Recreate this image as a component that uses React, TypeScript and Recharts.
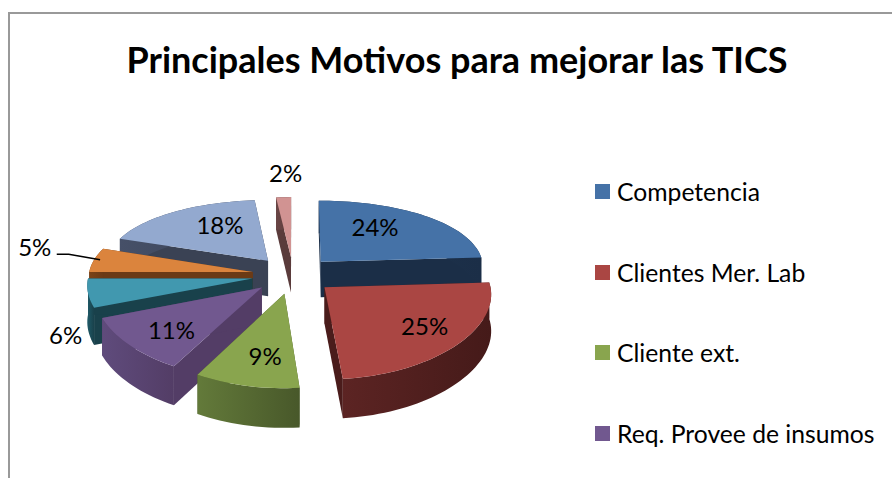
import React from "react";
import { PieChart, Pie, Legend } from "recharts";

const sliceIds = ["s1", "s2", "s3", "s4", "s5", "s6", "s7", "s8"];
const values = [24, 24.6, 9.4, 11, 6, 5.4, 18, 1.6];
const legendNames = ["Competencia", "Clientes Mer. Lab", "Cliente ext.", "Req. Provee de insumos"];

const topColors = ["#4572a7", "#aa4643", "#89a54e", "#71588f", "#4198af", "#db843d", "#93a9cf", "#d19392"];
const faceColors = ["#1b2e47", "#4a1c1b", "#4a5a2a", "#533d66", "#19414b", "#6b3a15", "#3a4254", "#5a3b3b"];
const wallFrom = ["#1f3550", "#5c2423", "#637a3a", "#5f4b7c", "#1f5a68", "#7a4318", "#465068", "#6a4545"];
const wallTo = ["#1b2e47", "#451a19", "#48582a", "#533d66", "#19414b", "#6b3a15", "#3a4254", "#5a3b3b"];

// back to front, so nearer wedges cover the walls of the ones behind
const drawOrder = [7, 6, 0, 5, 4, 1, 3, 2];

// label placement along each wedge's mid angle, as a share of the radius
const labelRadius = [0.55, 0.72, 0.76, 0.78, 1.2, 1.4, 0.6, 1.3];
const labelNudgeX = [-4, 5, 9, 12, 11, 3, 9, 4];
const labelNudgeY = [-9, -1, -5, -2, 39, -9, -6, -10];

const table = sliceIds.map((id, i) => ({ id, value: values[i] }));

const FONT = "Lato, sans-serif";
const EXPLODE = 0.25;
const TILT = 0.454;
const DEPTH = 36;
const RAD = Math.PI / 180;

// recharts angles run counter-clockwise from 3 o'clock; turn them into a disc direction
const dir = (angle: number) => ({ x: Math.cos(angle * RAD), y: -Math.sin(angle * RAD) });

const project = (cx: number, cy: number, R: number, x: number, y: number) => ({
  x: cx + (x * R) / (1 - 0.075 * y),
  y: cy + (y * 163 * TILT) / (1 - 0.15 * y),
  drop: DEPTH * (1 + 0.08 * y),
});

const Slice3D = (props: any) => {
  const { cx, cy, outerRadius: R, startAngle, endAngle } = props;
  const i = sliceIds.indexOf(props.id ?? props.payload?.id);
  const mid = dir((startAngle + endAngle) / 2);
  const ox = mid.x * EXPLODE;
  const oy = mid.y * EXPLODE;

  const apex = project(cx, cy, R, ox, oy);
  const steps = Math.max(2, Math.ceil(Math.abs(endAngle - startAngle) / 2));
  const rim = [];
  for (let s = 0; s <= steps; s++) {
    const d = dir(startAngle + ((endAngle - startAngle) * s) / steps);
    rim.push(project(cx, cy, R, ox + d.x, oy + d.y));
  }
  const first = rim[0];
  const last = rim[rim.length - 1];
  const pts = (list: { x: number; y: number }[]) => list.map((p) => `${p.x},${p.y}`).join(" L");
  const down = (p: any) => ({ x: p.x, y: p.y + p.drop });

  const topPath = `M${apex.x},${apex.y} L${pts(rim)} Z`;
  const wallPath = `M${pts(rim)} L${pts(rim.map(down).reverse())} Z`;
  const faceA = `M${apex.x},${apex.y} L${first.x},${first.y} L${down(first).x},${down(first).y} L${down(apex).x},${down(apex).y} Z`;
  const faceB = `M${apex.x},${apex.y} L${last.x},${last.y} L${down(last).x},${down(last).y} L${down(apex).x},${down(apex).y} Z`;
  const gradId = `wall-${i}`;

  return (
    <g>
      <defs>
        <linearGradient id={gradId} x1="0" y1="0" x2="1" y2="0">
          <stop offset="0%" stopColor={wallFrom[i]} />
          <stop offset="100%" stopColor={wallTo[i]} />
        </linearGradient>
      </defs>
      <path d={faceA} fill={faceColors[i]} />
      <path d={faceB} fill={faceColors[i]} />
      <path d={wallPath} fill={`url(#${gradId})`} />
      <path d={topPath} fill={topColors[i]} />
    </g>
  );
};

const SliceLabel = (props: any) => {
  const { cx, cy, outerRadius: R, midAngle, index, value } = props;
  const d = dir(midAngle);
  const r = labelRadius[index];
  const p = project(cx, cy, R, d.x * (EXPLODE + r), d.y * (EXPLODE + r));
  const x = p.x + labelNudgeX[index];
  const y = p.y + labelNudgeY[index];
  let leader = null;
  if (sliceIds[index] === "s6") {
    const end = project(cx, cy, R, d.x * (EXPLODE + 1), d.y * (EXPLODE + 1));
    leader = <path d={`M${x + 22},${y + 8} L${x + 34},${y + 8} L${end.x + 6},${end.y}`} fill="none" stroke="#000" strokeWidth={1.5} />;
  }
  return (
    <g>
      {leader}
      <text x={x} y={y} textAnchor="middle" dominantBaseline="central" fontFamily={FONT} fontSize={24} fill="#000">
        {`${Math.round(value)}%`}
      </text>
    </g>
  );
};

const LegendList = () => (
  <div style={{ fontFamily: FONT, fontSize: 24.7, color: "#000" }}>
    {legendNames.map((name, i) => (
      <div key={name} style={{ display: "flex", alignItems: "center", height: 80.7, whiteSpace: "nowrap" }}>
        <span style={{ width: 15, height: 15, background: topColors[i], marginRight: 7, flexShrink: 0 }} />
        {name}
      </div>
    ))}
  </div>
);

export default function App() {
  return (
    <div style={{ position: "absolute", left: 0, top: 0, width: 892, height: 478, overflow: "hidden", background: "#fff" }}>
      <div style={{ position: "absolute", left: 8, top: 12, width: 920, height: 500, borderLeft: "2px solid #999", borderTop: "2px solid #999" }} />
      <PieChart width={892} height={478} margin={{ top: 0, right: 0, bottom: 0, left: 0 }} style={{ position: "absolute", left: 0, top: 0 }}>
        <text x={457} y={59} textAnchor="middle" dominantBaseline="central" fontFamily={FONT} fontSize={36} fontWeight={700} fill="#000">
          Principales Motivos para mejorar las TICS
        </text>
        {drawOrder.map((k) => (
          <Pie
            key={k}
            data={table}
            dataKey="value"
            cx={293}
            cy={275}
            outerRadius={164}
            startAngle={90}
            endAngle={-270}
            stroke="none"
            isAnimationActive={false}
            shape={(props: any) => (props.id ?? props.payload?.id) === sliceIds[k] ? <Slice3D {...props} /> : <g />}
          />
        ))}
        <Pie
          data={table}
          dataKey="value"
          cx={293}
          cy={275}
          outerRadius={164}
          startAngle={90}
          endAngle={-270}
          isAnimationActive={false}
          shape={() => <g />}
          label={SliceLabel}
          labelLine={false}
        />
        <Legend content={() => <LegendList />} wrapperStyle={{ position: "absolute", left: 595, top: 151, width: 297, bottom: "auto", right: "auto" }} />
      </PieChart>
    </div>
  );
}
